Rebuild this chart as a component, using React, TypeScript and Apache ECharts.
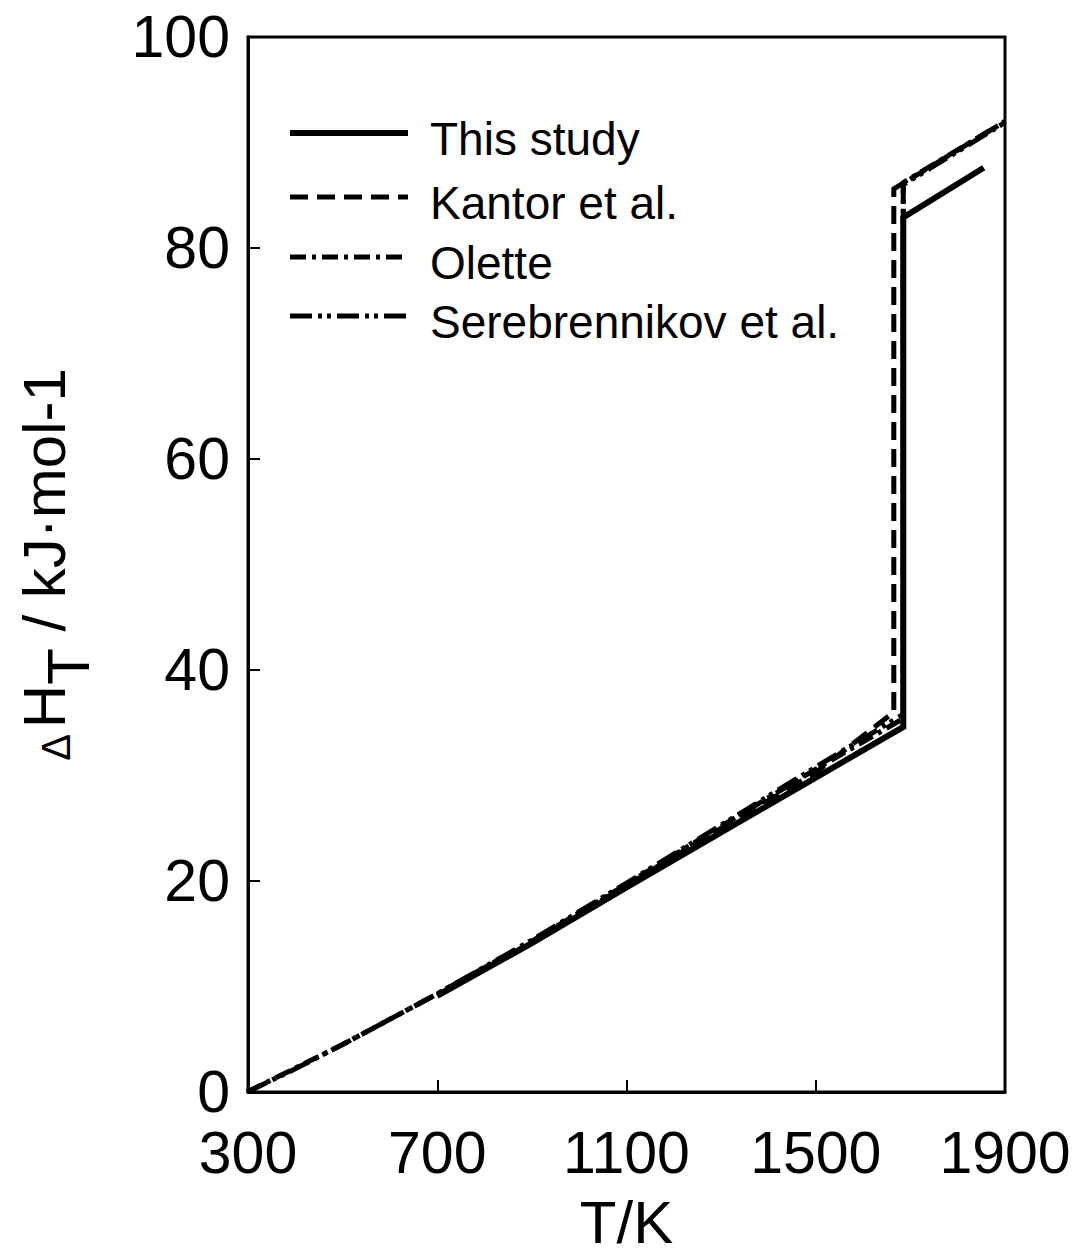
import React, { useEffect, useRef } from "react";
import * as echarts from "echarts";

// Enthalpy increment of silicon, H(T) - H(298), kJ/mol
const studyT = [700, 900, 1100, 1300, 1500, 1685, 1685, 1855];
const studyH = [9.1, 14.1, 19.4, 24.6, 29.8, 34.6, 82.9, 87.6];

const kantorT = [700, 900, 1100, 1300, 1500, 1665, 1665, 1900];
const kantorH = [9.2, 14.2, 19.6, 25.0, 30.3, 36.0, 85.6, 92.0];

const oletteT = [298, 500, 700, 900, 1100, 1300, 1500, 1685, 1685, 1900];
const oletteH = [0, 4.5, 9.3, 14.3, 19.7, 25.2, 30.6, 35.4, 86.2, 92.0];

const serebT = [298, 400, 500, 600, 700, 900, 1100, 1300, 1500, 1685, 1685, 1900];
const serebH = [0, 2.2, 4.5, 6.9, 9.3, 14.4, 19.8, 25.3, 30.8, 35.8, 86.0, 91.9];

const xTicks = [300, 700, 1100, 1500, 1900];
const yTicks = [0, 20, 40, 60, 80, 100];

const legendNames = ["This study", "Kantor et al.", "Olette", "Serebrennikov et al."];

const pairs = (t: number[], h: number[]) => t.map((v, i) => [v, h[i]]);

const FONT = "Liberation Sans, Arial, sans-serif";

const dashSolid: any = "solid";
const dashKantor = [18, 9];
const dashOlette = [16, 6, 4, 6];
const dashSereb = [22, 6, 4, 5, 4, 6];

export default function App() {
  const ref = useRef<HTMLDivElement>(null);

  useEffect(() => {
    if (!ref.current) return;
    const chart = echarts.init(ref.current, null, { renderer: "svg" });

    // legend drawn by hand: sample line + label
    const legendX0 = 290;
    const legendX1 = 408;
    const legendTextX = 430;
    const legendY = [133, 197, 257, 316];
    const legendDash = [null, dashKantor, dashOlette, dashSereb];
    const legendWidth = [6, 5, 5, 5];

    const legendGraphics: any[] = [];
    legendNames.forEach((name, i) => {
      legendGraphics.push({
        type: "line",
        shape: { x1: legendX0, y1: legendY[i], x2: legendX1, y2: legendY[i] },
        style: {
          stroke: "#000",
          lineWidth: legendWidth[i],
          lineDash: legendDash[i] || null,
        },
        z: 10,
      });
      legendGraphics.push({
        type: "text",
        x: legendTextX,
        y: legendY[i] + 6,
        style: {
          text: name,
          fill: "#000",
          font: `46px ${FONT}`,
          textVerticalAlign: "middle",
          textAlign: "left",
        },
        z: 10,
      });
    });

    const mkSeries = (name: string, t: number[], h: number[], type: any, width: number, z: number) => ({
      name,
      type: "line",
      data: pairs(t, h),
      showSymbol: false,
      symbol: "none",
      z,
      lineStyle: { color: "#000", width, type, cap: "butt", join: "miter" },
    });

    chart.setOption({
      animation: false,
      backgroundColor: "#fff",
      grid: {
        left: 248,
        right: 86,
        top: 37,
        bottom: 164,
        show: true,
        borderColor: "#000",
        borderWidth: 3,
        backgroundColor: "transparent",
      },
      xAxis: {
        type: "value",
        min: 300,
        max: 1900,
        interval: 400,
        name: "T/K",
        nameLocation: "middle",
        nameGap: 100,
        nameTextStyle: { fontFamily: FONT, fontSize: 60, color: "#000" },
        axisLine: { show: true, lineStyle: { color: "#000", width: 3 } },
        axisTick: { show: true, inside: true, length: 12, lineStyle: { color: "#000", width: 2 } },
        axisLabel: {
          fontFamily: FONT,
          fontSize: 59,
          lineHeight: 46,
          color: "#000",
          margin: 38,
          customValues: xTicks,
          formatter: (v: number) => String(v),
        },
        splitLine: { show: false },
      },
      yAxis: {
        type: "value",
        min: 0,
        max: 100,
        interval: 20,
        name: "{d|Δ}{a|H}{s|T}{a| / kJ·mol}{p|-1}",
        nameLocation: "middle",
        nameGap: 150,
        nameRotate: 90,
        nameTextStyle: {
          fontFamily: FONT,
          color: "#000",
          rich: {
            d: { fontFamily: FONT, fontSize: 40, color: "#000", lineHeight: 84, verticalAlign: "middle", padding: [0, 6, 0, 0] },
            a: { fontFamily: FONT, fontSize: 60, color: "#000", lineHeight: 60, verticalAlign: "top" },
            s: { fontFamily: FONT, fontSize: 60, color: "#000", lineHeight: 60, verticalAlign: "bottom" },
            p: { fontFamily: FONT, fontSize: 60, color: "#000", lineHeight: 44, verticalAlign: "top" },
          },
        },
        axisLine: { show: true, lineStyle: { color: "#000", width: 3 } },
        axisTick: { show: true, inside: true, length: 12, lineStyle: { color: "#000", width: 2 } },
        axisLabel: {
          fontFamily: FONT,
          fontSize: 59,
          lineHeight: 46,
          color: "#000",
          margin: 18,
          customValues: yTicks,
          formatter: (v: number) => String(v),
        },
        splitLine: { show: false },
      },
      series: [
        mkSeries(legendNames[3], serebT, serebH, dashSereb, 5, 2),
        mkSeries(legendNames[2], oletteT, oletteH, dashOlette, 5, 3),
        mkSeries(legendNames[1], kantorT, kantorH, dashKantor, 5, 4),
        mkSeries(legendNames[0], studyT, studyH, dashSolid, 6, 5),
      ],
      graphic: legendGraphics,
    });

    return () => chart.dispose();
  }, []);

  return (
    <div
      ref={ref}
      style={{ position: "absolute", left: 0, top: 0, width: 1091, height: 1257 }}
    />
  );
}
